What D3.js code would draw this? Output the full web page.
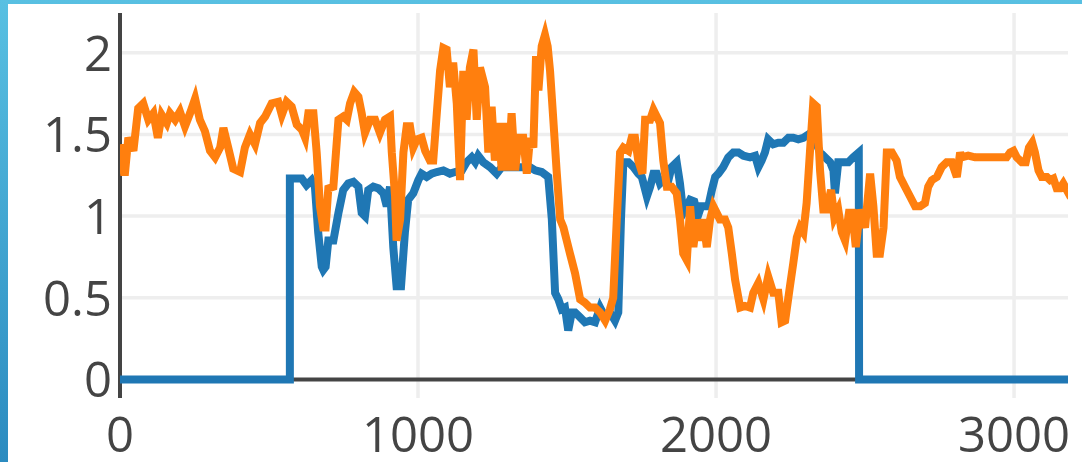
<!DOCTYPE html>
<html>
<head>
<meta charset="utf-8">
<script src="https://cdn.jsdelivr.net/npm/d3@7"></script>
<style>
  html, body { margin: 0; padding: 0; background: #fff; }
  svg { display: block; }
</style>
</head>
<body>
<svg id="chart" width="1082" height="462"></svg>
<script>
// Series: [x, value] pairs
const blueSeries = [
  [0, 0], [570, 0], [570, 1.23], [593, 1.23], [610, 1.23], [626, 1.19], [643, 1.22], [654, 1.18],
  [665, 0.90], [677, 0.69], [682, 0.67], [690, 0.69], [699, 0.85], [716, 0.85], [733, 1.02],
  [749, 1.16], [766, 1.20], [783, 1.21], [800, 1.18], [811, 1.02], [822, 1.00], [833, 1.16],
  [850, 1.18], [867, 1.17], [884, 1.14], [895, 1.06], [906, 1.18], [917, 0.81], [928, 0.57],
  [943, 0.57], [956, 0.90], [967, 1.10], [984, 1.14], [1001, 1.22], [1012, 1.26], [1029, 1.24],
  [1046, 1.26], [1063, 1.27], [1085, 1.28], [1107, 1.26], [1124, 1.27], [1147, 1.28], [1163, 1.33],
  [1180, 1.36], [1192, 1.33], [1202, 1.37], [1219, 1.33], [1242, 1.30], [1264, 1.26], [1281, 1.30],
  [1314, 1.30], [1348, 1.30], [1376, 1.30], [1393, 1.28], [1415, 1.27], [1437, 1.24], [1449, 0.98],
  [1460, 0.53], [1471, 0.49], [1482, 0.43], [1493, 0.44], [1504, 0.30], [1516, 0.41], [1527, 0.41],
  [1544, 0.38], [1560, 0.35], [1577, 0.36], [1594, 0.35], [1611, 0.44], [1628, 0.38], [1644, 0.41],
  [1661, 0.36], [1672, 0.41], [1681, 0.98], [1689, 1.33], [1706, 1.33], [1723, 1.30], [1739, 1.26],
  [1751, 1.24], [1768, 1.12], [1779, 1.18], [1790, 1.26], [1801, 1.26], [1812, 1.20], [1823, 1.22],
  [1840, 1.22], [1851, 1.30], [1868, 1.33], [1879, 1.20], [1890, 1.02], [1902, 1.06], [1913, 1.10],
  [1927, 1.09], [1939, 1.00], [1950, 1.06], [1963, 1.06], [1974, 1.06], [1986, 1.16], [1997, 1.24],
  [2008, 1.26], [2024, 1.30], [2041, 1.36], [2058, 1.39], [2075, 1.39], [2092, 1.37], [2114, 1.36],
  [2131, 1.37], [2142, 1.30], [2153, 1.34], [2164, 1.39], [2175, 1.47], [2192, 1.44], [2209, 1.45],
  [2226, 1.45], [2243, 1.48], [2259, 1.48], [2276, 1.47], [2293, 1.48], [2310, 1.50], [2329, 1.48],
  [2349, 1.39], [2366, 1.36], [2383, 1.33], [2394, 1.28], [2399, 1.14], [2410, 1.33], [2427, 1.33],
  [2444, 1.33], [2460, 1.36], [2479, 1.39], [2480, 0], [3181, 0]
];

const orangeSeries = [
  [0, 1.44], [13, 1.27], [17, 1.27], [28, 1.48], [45, 1.40], [61, 1.66], [78, 1.69], [95, 1.59],
  [112, 1.63], [127, 1.48], [140, 1.62], [157, 1.57], [168, 1.63], [185, 1.59], [201, 1.64],
  [218, 1.55], [235, 1.63], [252, 1.72], [268, 1.59], [285, 1.52], [302, 1.40], [319, 1.36],
  [336, 1.42], [347, 1.54], [363, 1.42], [380, 1.29], [403, 1.27], [419, 1.42], [436, 1.50],
  [453, 1.44], [470, 1.57], [487, 1.61], [509, 1.69], [531, 1.70], [543, 1.62], [559, 1.70],
  [576, 1.67], [593, 1.56], [610, 1.53], [621, 1.48], [632, 1.63], [649, 1.63], [660, 1.39],
  [671, 1.06], [682, 0.93], [690, 0.93], [699, 1.17], [716, 1.18], [733, 1.59], [749, 1.61],
  [761, 1.59], [772, 1.69], [786, 1.76], [800, 1.73], [811, 1.63], [822, 1.51], [839, 1.59],
  [856, 1.59], [872, 1.51], [889, 1.59], [906, 1.61], [912, 1.39], [923, 1.12], [928, 0.85],
  [940, 0.98], [951, 1.39], [962, 1.55], [973, 1.55], [984, 1.42], [996, 1.47], [1012, 1.48],
  [1024, 1.40], [1040, 1.34], [1051, 1.34], [1063, 1.63], [1074, 1.89], [1085, 2.03], [1096, 2.02],
  [1107, 1.79], [1118, 1.94], [1130, 1.69], [1141, 1.22], [1152, 1.89], [1163, 1.59], [1174, 1.91],
  [1186, 2.02], [1197, 1.59], [1208, 1.91], [1225, 1.79], [1236, 1.39], [1247, 1.67], [1258, 1.34],
  [1269, 1.57], [1281, 1.28], [1292, 1.57], [1303, 1.28], [1314, 1.63], [1326, 1.28], [1337, 1.48],
  [1353, 1.48], [1365, 1.26], [1376, 1.48], [1387, 1.42], [1396, 1.98], [1404, 1.77], [1415, 2.04],
  [1426, 2.11], [1435, 2.04], [1443, 1.89], [1454, 1.59], [1465, 1.28], [1477, 0.98], [1488, 0.93],
  [1499, 0.85], [1510, 0.77], [1527, 0.65], [1544, 0.49], [1560, 0.47], [1577, 0.44], [1594, 0.44],
  [1611, 0.41], [1628, 0.36], [1644, 0.43], [1655, 0.50], [1667, 0.98], [1678, 1.39], [1689, 1.42],
  [1706, 1.40], [1717, 1.48], [1728, 1.48], [1739, 1.34], [1753, 1.26], [1762, 1.59], [1779, 1.59],
  [1790, 1.65], [1801, 1.61], [1812, 1.57], [1823, 1.34], [1835, 1.18], [1851, 1.18], [1868, 1.14],
  [1879, 0.98], [1890, 0.77], [1902, 0.73], [1913, 1.06], [1924, 0.81], [1935, 0.98], [1946, 0.85],
  [1957, 0.98], [1969, 0.81], [1980, 0.98], [1991, 1.06], [2002, 1.02], [2013, 0.98], [2030, 0.98],
  [2041, 0.93], [2053, 0.77], [2064, 0.61], [2081, 0.44], [2097, 0.45], [2114, 0.44], [2125, 0.53],
  [2142, 0.59], [2159, 0.49], [2175, 0.63], [2192, 0.53], [2209, 0.53], [2220, 0.35], [2232, 0.36],
  [2248, 0.57], [2259, 0.71], [2271, 0.87], [2282, 0.93], [2293, 0.90], [2304, 1.08], [2315, 1.39],
  [2326, 1.69], [2338, 1.67], [2349, 1.28], [2360, 1.04], [2371, 1.04], [2386, 1.16], [2397, 0.99],
  [2410, 1.04], [2422, 0.90], [2433, 0.85], [2446, 1.02], [2457, 1.02], [2469, 0.81], [2483, 1.04],
  [2500, 0.93], [2517, 1.26], [2528, 1.06], [2539, 0.77], [2550, 0.77], [2562, 0.93], [2573, 1.39],
  [2590, 1.39], [2606, 1.34], [2617, 1.24], [2634, 1.18], [2651, 1.12], [2668, 1.06], [2685, 1.06],
  [2701, 1.08], [2712, 1.18], [2724, 1.22], [2741, 1.24], [2757, 1.30], [2774, 1.33], [2791, 1.33],
  [2808, 1.24], [2819, 1.39], [2824, 1.36], [2846, 1.37], [2869, 1.36], [2892, 1.36], [2914, 1.36],
  [2936, 1.36], [2959, 1.36], [2975, 1.36], [2987, 1.39], [2998, 1.40], [3009, 1.36], [3026, 1.33],
  [3039, 1.33], [3050, 1.42], [3061, 1.45], [3070, 1.39], [3082, 1.28], [3093, 1.24], [3110, 1.24],
  [3121, 1.22], [3132, 1.23], [3143, 1.17], [3154, 1.17], [3165, 1.20], [3177, 1.16], [3181, 1.18]
];

const xTicks = [0, 1000, 2000, 3000];
const yTicks = [0, 0.5, 1, 1.5, 2];
const xTickLabels = ["0", "1000", "2000", "3000"];
const yTickLabels = ["0", "0.5", "1", "1.5", "2"];

const W = 1082, H = 462;
const plot = { left: 120, right: 1068, top: 13, bottom: 398 };

const svg = d3.select("#chart");

// Frame: blue gradient behind a white card
const defs = svg.append("defs");
const grad = defs.append("linearGradient")
  .attr("id", "frameGrad").attr("x1", 0).attr("y1", 0).attr("x2", 0).attr("y2", 1);
grad.append("stop").attr("offset", "0%").attr("stop-color", "#58c0e2");
grad.append("stop").attr("offset", "100%").attr("stop-color", "#2b8bc0");
svg.append("rect").attr("width", W).attr("height", H).attr("fill", "url(#frameGrad)");
svg.append("rect").attr("x", 8).attr("y", 4).attr("width", W - 8).attr("height", H - 4).attr("fill", "#fff");

const x = d3.scaleLinear().domain([0, 3181]).range([plot.left, plot.right]);
const y = d3.scaleLinear().domain([-0.114, 2.244]).range([plot.bottom, plot.top]);

// Grid lines
const grid = svg.append("g");
grid.selectAll("line.gx").data(xTicks.filter(d => d !== 0)).join("line")
  .attr("x1", d => x(d)).attr("x2", d => x(d))
  .attr("y1", plot.top).attr("y2", plot.bottom)
  .attr("stroke", "#eeeeee").attr("stroke-width", 3.5);
grid.selectAll("line.gy").data(yTicks.filter(d => d !== 0)).join("line")
  .attr("x1", plot.left).attr("x2", plot.right)
  .attr("y1", d => y(d)).attr("y2", d => y(d))
  .attr("stroke", "#eeeeee").attr("stroke-width", 3.5);

// Zero lines
svg.append("line")
  .attr("x1", plot.left).attr("x2", plot.right).attr("y1", y(0)).attr("y2", y(0))
  .attr("stroke", "#444").attr("stroke-width", 4);
svg.append("line")
  .attr("x1", x(0)).attr("x2", x(0)).attr("y1", plot.top).attr("y2", plot.bottom)
  .attr("stroke", "#444").attr("stroke-width", 4);

// Data lines
defs.append("clipPath").attr("id", "plotClip").append("rect")
  .attr("x", plot.left).attr("y", plot.top)
  .attr("width", plot.right - plot.left).attr("height", plot.bottom - plot.top);

const line = d3.line().x(d => x(d[0])).y(d => y(d[1]));
const lines = svg.append("g").attr("clip-path", "url(#plotClip)");
lines.append("path").datum(blueSeries).attr("d", line)
  .attr("fill", "none").attr("stroke", "#1f77b4").attr("stroke-width", 8);
lines.append("path").datum(orangeSeries).attr("d", line)
  .attr("fill", "none").attr("stroke", "#ff7f0e").attr("stroke-width", 8);

// Tick labels
const font = "'Open Sans', 'Liberation Sans', sans-serif";
svg.append("g").selectAll("text").data(xTicks).join("text")
  .attr("x", d => x(d)).attr("y", 452)
  .attr("text-anchor", "middle")
  .attr("font-family", font).attr("font-size", 49).attr("fill", "#444")
  .text((d, i) => xTickLabels[i]);
svg.append("g").selectAll("text").data(yTicks).join("text")
  .attr("x", 112).attr("y", d => y(d) + 18)
  .attr("text-anchor", "end")
  .attr("font-family", font).attr("font-size", 49).attr("fill", "#444")
  .text((d, i) => yTickLabels[i]);
</script>
</body>
</html>
